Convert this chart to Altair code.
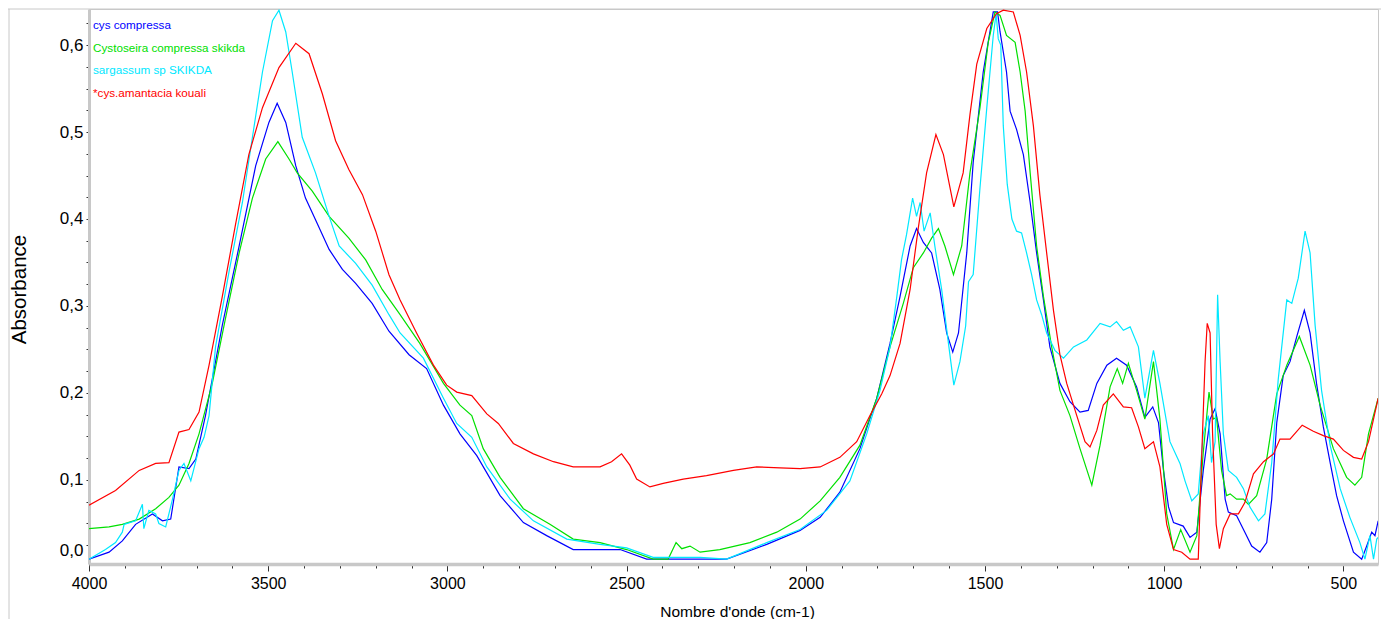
import altair as alt
import pandas as pd

FONT = "Liberation Sans, Arial, Helvetica, sans-serif"

names = ["cys compressa", "Cystoseira compressa skikda", "sargassum sp SKIKDA", "*cys.amantacia kouali"]
colors = ["#0000ff", "#00e000", "#00e8ff", "#ff0000"]

wn_blue = [4000, 3944, 3907, 3870, 3823, 3795, 3772, 3749, 3721, 3702, 3675, 3628, 3581, 3535, 3498, 3475,
           3451, 3423, 3396, 3368, 3330, 3293, 3256, 3210, 3163, 3107, 3058, 3011, 2965, 2918, 2853, 2788,
           2723, 2649, 2518, 2444, 2221, 2109, 2016, 1960, 1905, 1849, 1802, 1765, 1737, 1709, 1691, 1672,
           1649, 1626, 1607, 1590, 1574, 1551, 1533, 1505, 1477, 1465, 1458, 1440, 1430, 1412, 1393, 1374,
           1356, 1337, 1319, 1291, 1263, 1235, 1212, 1188, 1160, 1133, 1105, 1077, 1054, 1032, 1016, 1002,
           988, 974, 947, 928, 909, 891, 872, 858, 844, 830, 821, 798, 775, 756, 733, 714, 700, 686, 668,
           649, 630, 609, 593, 575, 556, 537, 519, 500, 472, 449, 435, 421, 412, 403]
ab_blue = [.009, .017, .030, .049, .061, .053, .055, .115, .113, .124, .174, .278, .369, .461, .511, .533,
           .511, .461, .424, .399, .365, .342, .326, .303, .271, .244, .228, .186, .153, .128, .082, .051,
           .036, .020, .020, .009, .009, .026, .042, .057, .086, .136, .194, .257, .311, .369, .389, .373,
           .361, .319, .269, .247, .269, .361, .465, .569, .638, .638, .615, .569, .524, .503, .474, .419,
           .361, .307, .253, .211, .190, .178, .180, .211, .232, .240, .232, .207, .172, .184, .166, .111,
           .069, .051, .047, .034, .040, .111, .170, .182, .153, .078, .063, .059, .040, .024, .017, .028, .078, .166, .220,
           .236, .265, .295, .269, .211, .161, .120, .082, .053, .017, .009, .024, .040, .036, .053]

wn_green = [4000, 3944, 3907, 3860, 3814, 3777, 3749, 3721, 3693, 3656, 3619, 3581, 3544, 3507, 3473, 3442,
            3419, 3377, 3330, 3275, 3228, 3182, 3132, 3077, 3011, 2965, 2932, 2900, 2853, 2788, 2714, 2649,
            2574, 2500, 2426, 2384, 2362, 2346, 2323, 2295, 2240, 2156, 2081, 2016, 1960, 1905, 1849, 1802,
            1765, 1728, 1700, 1672, 1649, 1630, 1612, 1588, 1565, 1542, 1514, 1491, 1472, 1458, 1440, 1416,
            1402, 1388, 1374, 1356, 1337, 1314, 1291, 1263, 1235, 1202, 1179, 1151, 1131, 1116, 1100, 1077,
            1054, 1030, 1012, 993, 974, 954, 928, 909, 891, 875, 863, 854, 840, 826, 816, 798, 779, 765, 742,
            714, 686, 658, 623, 593, 565, 528, 491, 468, 449, 430, 403]
ab_green = [.044, .046, .049, .055, .067, .080, .094, .119, .153, .211, .286, .361, .424, .469, .489, .469,
            .453, .432, .403, .378, .353, .319, .290, .257, .211, .186, .174, .136, .103, .067, .049, .032,
            .028, .020, .009, .009, .028, .021, .024, .017, .020, .028, .040, .055, .076, .103, .140, .194,
            .253, .303, .344, .361, .378, .389, .369, .336, .369, .453, .528, .603, .638, .634, .611, .603,
            .569, .524, .453, .369, .311, .253, .203, .174, .136, .094, .140, .207, .228, .211, .234, .203,
            .170, .236, .170, .061, .020, .043, .017, .036, .132, .201, .170, .172, .111, .082, .084, .078, .078, .072, .082,
            .124, .199, .232, .265, .232, .186, .136, .103, .094, .103, .153, .194]

wn_cyan = [4000, 3954, 3926, 3907, 3902, 3870, 3851, 3847, 3833, 3814, 3805, 3786, 3767, 3749, 3735, 3716,
           3693, 3679, 3665, 3647, 3609, 3572, 3544, 3516, 3488, 3470, 3451, 3433, 3405, 3368, 3330, 3302,
           3256, 3210, 3163, 3132, 3067, 3011, 2974, 2932, 2890, 2825, 2760, 2667, 2574, 2500, 2426, 2295,
           2221, 2109, 2016, 1942, 1877, 1830, 1793, 1765, 1746, 1733, 1719, 1702, 1691, 1681, 1670, 1653,
           1640, 1621, 1602, 1587, 1570, 1554, 1546, 1533, 1514, 1495, 1477, 1469, 1463, 1456, 1449, 1438,
           1425, 1412, 1398, 1384, 1370, 1356, 1342, 1328, 1305, 1281, 1253, 1216, 1179, 1151, 1133, 1114,
           1095, 1072, 1054, 1030, 1012, 984, 956, 942, 923, 905, 891, 877, 868, 858, 851, 844, 835, 821,
           798, 779, 761, 737, 719, 700, 682, 658, 644, 626, 607, 593, 579, 561, 537, 509, 482, 454, 440,
           426, 416, 407, 403]
ab_cyan = [.009, .020, .028, .040, .049, .053, .072, .044, .065, .061, .050, .046, .078, .111, .119, .099,
           .136, .149, .174, .253, .340, .419, .494, .569, .628, .640, .615, .569, .494, .453, .403, .369,
           .349, .324, .290, .269, .240, .194, .165, .149, .115, .078, .053, .032, .026, .022, .011, .011,
           .009, .028, .043, .065, .099, .153, .203, .253, .311, .353, .382, .424, .403, .419, .386, .407,
           .369, .319, .257, .209, .236, .277, .328, .336, .436, .528, .611, .636, .607, .600, .507, .440,
           .400, .386, .384, .361, .336, .307, .290, .269, .249, .240, .253, .261, .280, .276, .282, .272,
           .276, .253, .194, .249, .211, .144, .119, .099, .076, .084, .153, .174, .120, .144, .313, .236, .153, .111,
           .103, .090, .069, .053, .061, .120, .215, .307, .303, .332, .386, .361, .278, .203, .140, .090, .057, .028, .009,
           .036, .009, .032, .034]

wn_red = [4000, 3926, 3860, 3814, 3777, 3749, 3721, 3693, 3665, 3628, 3591, 3554, 3516, 3470, 3423, 3386,
          3349, 3312, 3275, 3237, 3200, 3163, 3132, 3086, 3039, 3002, 2974, 2932, 2890, 2858, 2816, 2760,
          2704, 2649, 2574, 2542, 2514, 2491, 2472, 2435, 2398, 2342, 2277, 2202, 2137, 2072, 2016, 1960,
          1905, 1858, 1821, 1788, 1765, 1737, 1709, 1686, 1663, 1637, 1616, 1587, 1561, 1542, 1523, 1495,
          1468, 1449, 1421, 1402, 1384, 1365, 1347, 1328, 1309, 1291, 1272, 1244, 1221, 1207, 1188, 1170,
          1142, 1114, 1091, 1072, 1054, 1030, 1012, 993, 974, 951, 928, 905, 895, 886, 880, 872, 865, 855,
          846, 835, 816, 793, 775, 751, 723, 695, 677, 649, 615, 584, 556, 528, 500, 472, 449, 430, 416, 403]
ab_red = [.071, .088, .111, .119, .120, .155, .158, .178, .232, .311, .394, .474, .528, .574, .602, .590,
          .544, .490, .457, .428, .386, .336, .307, .269, .232, .209, .201, .197, .176, .165, .142, .130,
          .121, .115, .115, .121, .130, .117, .101, .092, .096, .101, .105, .111, .115, .114, .113, .115,
          .126, .144, .174, .199, .220, .257, .319, .390, .453, .497, .474, .414, .453, .520, .578, .619,
          .636, .640, .638, .611, .569, .507, .428, .361, .295, .244, .211, .174, .144, .138, .157, .186,
          .199, .184, .183, .161, .136, .144, .115, .049, .020, .017, .009, .009, .132, .236, .280, .269, .153, .049,
          .021, .044, .061, .061, .074, .107, .121, .130, .147, .147, .163, .156, .151, .147, .134, .126, .124, .144, .170, .194]

series = [(names[0], wn_blue, ab_blue), (names[1], wn_green, ab_green),
          (names[2], wn_cyan, ab_cyan), (names[3], wn_red, ab_red)]
rows = []
for i, (nm, wn, ab) in enumerate(series):
    for w, a in zip(wn, ab):
        rows.append({"series": nm, "wn": w, "ab": a, "k": i})
df = pd.DataFrame(rows)

legend_df = pd.DataFrame({"series": names, "idx": list(range(len(names)))})

x_ticks = list(range(500, 4001, 100))
y_ticks = [0.0185] + [round(0.025 * k, 3) for k in range(1, 26)]

color_scale = alt.Scale(domain=names, range=colors)

lines = alt.Chart(df).mark_line(strokeWidth=1.2, clip=True).encode(
    x=alt.X("wn:Q", title="Nombre d'onde (cm-1)",
            scale=alt.Scale(domain=[4000, 403.5], nice=False, zero=False),
            axis=alt.Axis(values=x_ticks, format="d",
                          labelExpr="datum.value % 500 === 0 ? datum.label : ''",
                          tickSize={"condition": {"test": "datum.value % 500 === 0", "value": 7}, "value": 4},
                          tickColor="#333333", tickWidth=1,
                          domainColor="#c8c8c8", domainWidth=3.5,
                          labelFont=FONT, labelFontSize=16, labelColor="black",
                          labelPadding=4, labelFlush=False, labelOverlap=False, grid=False,
                          titleFont=FONT, titleFontSize=15.5, titleFontWeight="normal", titleColor="black",
                          titleX=648, titleY=52, titleBaseline="alphabetic", titleAlign="center")),
    y=alt.Y("ab:Q", title="Absorbance",
            scale=alt.Scale(domain=[0.0034, 0.6414], nice=False, zero=False),
            axis=alt.Axis(values=y_ticks,
                          labelExpr="datum.value < 0.02 ? '0,0' : (abs(datum.value*10 - round(datum.value*10)) < 0.001 ? replace(format(datum.value, '.1f'), '.', ',') : '')",
                          tickOpacity={"condition": {"test": "datum.value < 0.02", "value": 0}, "value": 1},
                          tickSize=3, tickColor="#333333", domainColor="#c8c8c8", domainWidth=3,
                          labelFont=FONT, labelFontSize=17, labelColor="black", labelPadding=3,
                          labelOverlap=False, labelFlush=False, grid=False,
                          titleFont=FONT, titleFontSize=20.5, titleFontWeight="normal", titleColor="black",
                          titleX=-70, titleY=280, titleBaseline="middle", titleAlign="center", titleAngle=270)),
    color=alt.Color("series:N", scale=color_scale, legend=None),
    order=alt.Order("k:Q"),
)

legend_text = alt.Chart(legend_df).mark_text(
    align="left", baseline="middle", font=FONT, fontSize=11.7
).encode(
    x=alt.value(4),
    y=alt.Y("idx:Q", scale=alt.Scale(domain=[0, 3], range=[16, 84]), axis=None),
    text="series:N",
    color=alt.Color("series:N", scale=color_scale, legend=None),
)

frame_df = pd.DataFrame({"k": [0]})
top_line = alt.Chart(frame_df).mark_rule(color="#c8c8c8", strokeWidth=1).encode(
    x=alt.value(-81), x2=alt.value(1293), y=alt.value(0))
left_line = alt.Chart(frame_df).mark_rule(color="#c8c8c8", strokeWidth=1).encode(
    x=alt.value(-80), y=alt.value(0), y2=alt.value(610))

chart = alt.layer(top_line, left_line, lines, legend_text).resolve_scale(y="independent").properties(
    width=1289, height=555,
    autosize=alt.AutoSizeParams(type="none"),
    padding={"left": 81, "top": 1, "right": 3, "bottom": 55},
    background="white",
).configure_view(stroke="#c8c8c8", strokeWidth=1)

chart.save("out.html", embed_options={"renderer": "svg", "actions": False})
